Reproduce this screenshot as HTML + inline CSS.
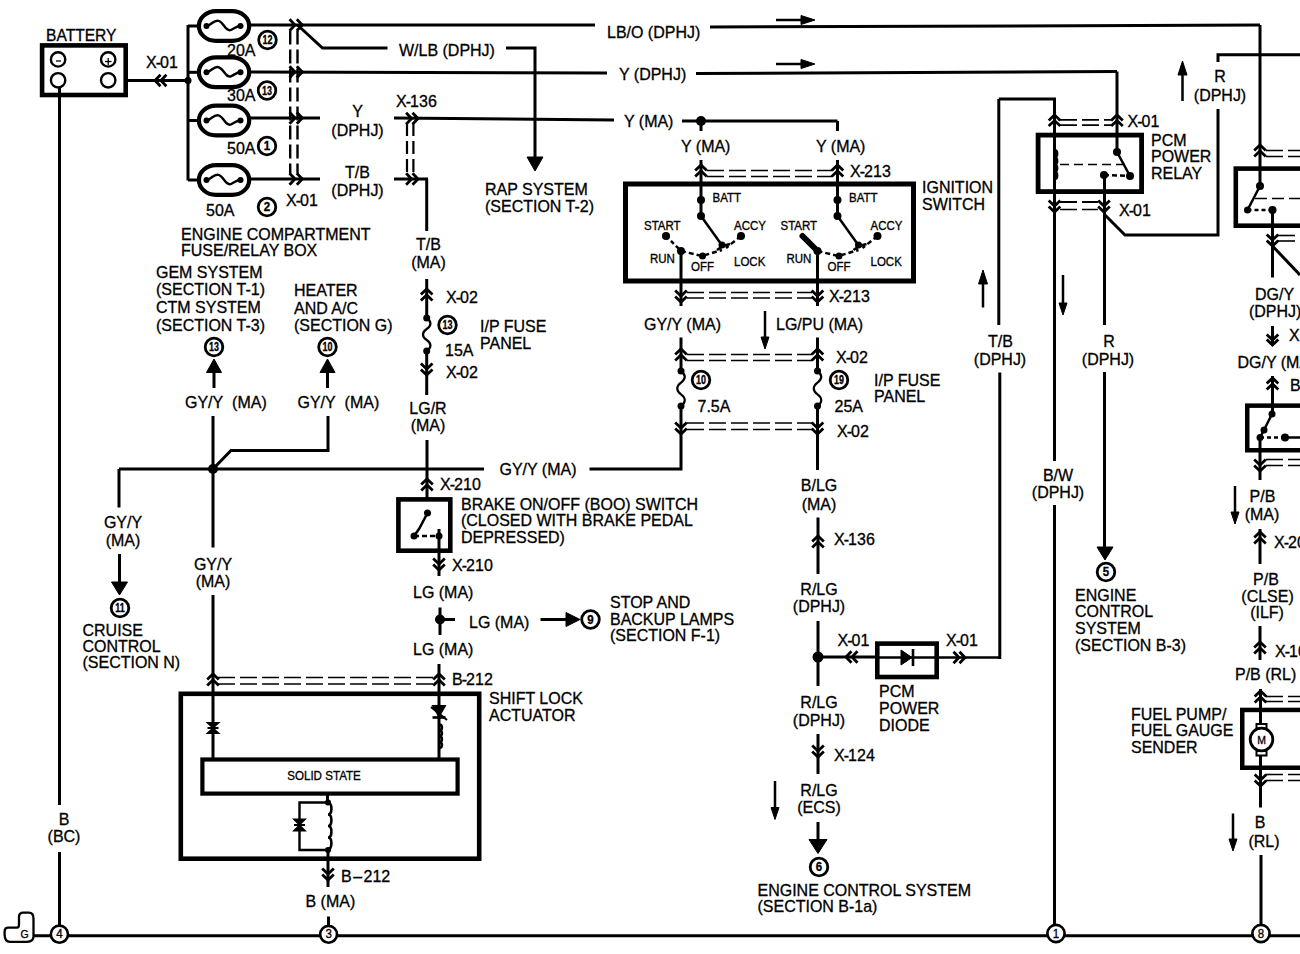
<!DOCTYPE html>
<html><head><meta charset="utf-8"><title>Wiring Diagram</title>
<style>
html,body{margin:0;padding:0;background:#fff;}
body{width:1300px;height:954px;overflow:hidden;}
svg{display:block;}
svg text{font-family:"Liberation Sans", sans-serif;fill:#000;stroke:#000;stroke-width:0.3px;}
</style></head><body>
<svg width="1300" height="954" viewBox="0 0 1300 954" stroke="#000" stroke-linecap="butt" fill="none">
<text transform="translate(46,40.5) scale(1,1.05)" font-size="15.6" text-anchor="start" >BATTERY</text>
<rect x="42.099999999999994" y="45.4" width="83.60000000000001" height="49.599999999999994" stroke-width="4.6" fill="none"/>
<circle cx="58.1" cy="59.4" r="7.2" fill="none" stroke-width="2.4"/>
<circle cx="108.2" cy="59.4" r="7.2" fill="none" stroke-width="2.4"/>
<circle cx="58.1" cy="80.3" r="7.2" fill="none" stroke-width="2.4"/>
<circle cx="108.2" cy="80.3" r="7.2" fill="none" stroke-width="2.4"/>
<line x1="56" y1="61" x2="61" y2="61" stroke-width="1.3"/>
<line x1="105" y1="61.5" x2="111.5" y2="61.5" stroke-width="1.3"/>
<line x1="108.2" y1="58" x2="108.2" y2="65" stroke-width="1.3"/>
<line x1="59.5" y1="88" x2="59.5" y2="805" stroke-width="3"/>
<text transform="translate(64,825) scale(1,1.05)" font-size="16" text-anchor="middle" >B</text>
<text transform="translate(64,842) scale(1,1.05)" font-size="16" text-anchor="middle" >(BC)</text>
<line x1="59.5" y1="852" x2="59.5" y2="925" stroke-width="3"/>
<line x1="128" y1="80.5" x2="188" y2="80.5" stroke-width="3"/>
<polyline points="160.5,74.7 155.0,80.5 160.5,86.3" stroke-width="2.8" fill="none" stroke-linejoin="miter"/>
<polyline points="166.4,74.7 160.9,80.5 166.4,86.3" stroke-width="2.8" fill="none" stroke-linejoin="miter"/>
<text transform="translate(146,67.5) scale(1,1.05)" font-size="16">X<tspan dx="-0.9">-</tspan><tspan dx="-1.0">01</tspan></text>
<circle cx="188" cy="80.5" r="3.5" fill="#000" stroke="none"/>
<line x1="188" y1="25" x2="188" y2="180.5" stroke-width="3"/>
<line x1="188" y1="26" x2="200" y2="26" stroke-width="3"/>
<rect x="198.9" y="11.1" width="50.3" height="29.8" rx="17" ry="14.9" fill="none" stroke-width="4.2"/>
<circle cx="206.5" cy="26" r="3" fill="#000" stroke="none"/>
<circle cx="240.5" cy="26" r="3" fill="#000" stroke="none"/>
<path d="M206.5,26 C212,25 214,19 219,21 C224,23 226,32 231,30 C235,28 237,26 240.5,26" stroke-width="2.4" fill="none" />
<line x1="188" y1="72.3" x2="200" y2="72.3" stroke-width="3"/>
<rect x="198.9" y="57.4" width="50.3" height="29.8" rx="17" ry="14.9" fill="none" stroke-width="4.2"/>
<circle cx="206.5" cy="72.3" r="3" fill="#000" stroke="none"/>
<circle cx="240.5" cy="72.3" r="3" fill="#000" stroke="none"/>
<path d="M206.5,72.3 C212,71.3 214,65.3 219,67.3 C224,69.3 226,78.3 231,76.3 C235,74.3 237,72.3 240.5,72.3" stroke-width="2.4" fill="none" />
<line x1="188" y1="120.5" x2="200" y2="120.5" stroke-width="3"/>
<rect x="198.9" y="105.6" width="50.3" height="29.8" rx="17" ry="14.9" fill="none" stroke-width="4.2"/>
<circle cx="206.5" cy="120.5" r="3" fill="#000" stroke="none"/>
<circle cx="240.5" cy="120.5" r="3" fill="#000" stroke="none"/>
<path d="M206.5,120.5 C212,119.5 214,113.5 219,115.5 C224,117.5 226,126.5 231,124.5 C235,122.5 237,120.5 240.5,120.5" stroke-width="2.4" fill="none" />
<line x1="188" y1="180" x2="200" y2="180" stroke-width="3"/>
<rect x="198.9" y="165.1" width="50.3" height="29.8" rx="17" ry="14.9" fill="none" stroke-width="4.2"/>
<circle cx="206.5" cy="180" r="3" fill="#000" stroke="none"/>
<circle cx="240.5" cy="180" r="3" fill="#000" stroke="none"/>
<path d="M206.5,180 C212,179 214,173 219,175 C224,177 226,186 231,184 C235,182 237,180 240.5,180" stroke-width="2.4" fill="none" />
<text transform="translate(227,55.5) scale(1,1.05)" font-size="16" text-anchor="start" >20A</text>
<circle cx="267.5" cy="40" r="8.8" fill="#fff" stroke-width="2.8"/>
<text transform="translate(267.5,44.1) scale(0.78,1.08)" font-size="11.5" text-anchor="middle" font-weight="bold">12</text>
<text transform="translate(227,100.5) scale(1,1.05)" font-size="16" text-anchor="start" >30A</text>
<circle cx="267" cy="90.5" r="8.8" fill="#fff" stroke-width="2.8"/>
<text transform="translate(267,94.6) scale(0.78,1.08)" font-size="11.5" text-anchor="middle" font-weight="bold">13</text>
<text transform="translate(227,153.5) scale(1,1.05)" font-size="16" text-anchor="start" >50A</text>
<circle cx="267" cy="146" r="8.8" fill="#fff" stroke-width="2.8"/>
<text transform="translate(267,150.14) scale(1,1.05)" font-size="11.5" text-anchor="middle" font-weight="bold">1</text>
<text transform="translate(206,215.5) scale(1,1.05)" font-size="16" text-anchor="start" >50A</text>
<circle cx="267" cy="207" r="8.8" fill="#fff" stroke-width="2.8"/>
<text transform="translate(267,211.14) scale(1,1.05)" font-size="11.5" text-anchor="middle" font-weight="bold">2</text>
<text transform="translate(286,205.5) scale(1,1.05)" font-size="16">X<tspan dx="-0.9">-</tspan><tspan dx="-1.0">01</tspan></text>
<line x1="250" y1="25" x2="595" y2="25" stroke-width="3"/>
<line x1="710" y1="27" x2="1260" y2="25" stroke-width="3"/>
<line x1="1260" y1="25" x2="1260" y2="188" stroke-width="3"/>
<line x1="250" y1="72" x2="607" y2="73" stroke-width="3"/>
<line x1="696" y1="73.5" x2="1117" y2="71.5" stroke-width="3"/>
<line x1="1117" y1="71.5" x2="1117" y2="152" stroke-width="3"/>
<line x1="250" y1="118" x2="320" y2="118" stroke-width="3"/>
<line x1="394" y1="118" x2="614" y2="120" stroke-width="3"/>
<line x1="682" y1="121" x2="837.5" y2="121" stroke-width="3"/>
<text transform="translate(624,126.5) scale(1,1.05)" font-size="16" text-anchor="start" >Y (MA)</text>
<line x1="837.5" y1="121" x2="837.5" y2="131" stroke-width="3"/>
<circle cx="701" cy="121" r="5" fill="#000" stroke="none"/>
<line x1="701" y1="121" x2="701" y2="131" stroke-width="3"/>
<line x1="250" y1="179" x2="320" y2="179" stroke-width="3"/>
<line x1="394" y1="179" x2="428" y2="179" stroke-width="3"/>
<line x1="426.7" y1="179" x2="426.7" y2="231" stroke-width="3"/>
<polyline points="296.8,19.2 302.3,25 296.8,30.8" stroke-width="2.8" fill="none" stroke-linejoin="miter"/>
<polyline points="289.5,19.2 295.0,25 289.5,30.8" stroke-width="2.8" fill="none" stroke-linejoin="miter"/>
<polyline points="296.8,66.2 302.3,72 296.8,77.8" stroke-width="2.8" fill="none" stroke-linejoin="miter"/>
<polyline points="289.5,66.2 295.0,72 289.5,77.8" stroke-width="2.8" fill="none" stroke-linejoin="miter"/>
<polyline points="296.8,112.2 302.3,118 296.8,123.8" stroke-width="2.8" fill="none" stroke-linejoin="miter"/>
<polyline points="289.5,112.2 295.0,118 289.5,123.8" stroke-width="2.8" fill="none" stroke-linejoin="miter"/>
<polyline points="296.8,173.2 302.3,179 296.8,184.8" stroke-width="2.8" fill="none" stroke-linejoin="miter"/>
<polyline points="289.5,173.2 295.0,179 289.5,184.8" stroke-width="2.8" fill="none" stroke-linejoin="miter"/>
<line x1="290.2" y1="30.5" x2="290.2" y2="173.5" stroke-width="2.4" stroke-dasharray="14,5"/>
<line x1="297.5" y1="30.5" x2="297.5" y2="173.5" stroke-width="2.4" stroke-dasharray="14,5"/>
<polyline points="297.5,25 322.5,48 387.5,48" stroke-width="3" fill="none" />
<text transform="translate(399,56) scale(1,1.05)" font-size="16" text-anchor="start" >W/LB (DPHJ)</text>
<polyline points="506,48 535,48 535,158" stroke-width="3" fill="none" />
<polygon points="527,157 543,157 535,171" stroke-width="1" fill="#000"/>
<text transform="translate(485,195.0) scale(1,1.05)" font-size="16" text-anchor="start" >RAP SYSTEM</text>
<text transform="translate(485,211.5) scale(1,1.05)" font-size="16" text-anchor="start" >(SECTION T-2)</text>
<text transform="translate(607,37.5) scale(1,1.05)" font-size="16" text-anchor="start" >LB/O (DPHJ)</text>
<line x1="776" y1="20" x2="803" y2="20" stroke-width="2.5"/>
<polygon points="801,15.5 801,24.5 815,20" stroke-width="1" fill="#000"/>
<text transform="translate(619,80) scale(1,1.05)" font-size="16" text-anchor="start" >Y (DPHJ)</text>
<line x1="776" y1="64" x2="803" y2="64" stroke-width="2.5"/>
<polygon points="801,59.5 801,68.5 815,64" stroke-width="1" fill="#000"/>
<text transform="translate(357.5,116.5) scale(1,1.05)" font-size="16" text-anchor="middle" >Y</text>
<text transform="translate(357.5,135.5) scale(1,1.05)" font-size="16" text-anchor="middle" >(DPHJ)</text>
<text transform="translate(357.5,177.5) scale(1,1.05)" font-size="16" text-anchor="middle" >T/B</text>
<text transform="translate(357.5,195.5) scale(1,1.05)" font-size="16" text-anchor="middle" >(DPHJ)</text>
<text transform="translate(396,106.5) scale(1,1.05)" font-size="16">X<tspan dx="-0.9">-</tspan><tspan dx="-1.0">136</tspan></text>
<polyline points="412.5,112.7 418.0,118.5 412.5,124.3" stroke-width="2.8" fill="none" stroke-linejoin="miter"/>
<polyline points="406.1,112.7 411.6,118.5 406.1,124.3" stroke-width="2.8" fill="none" stroke-linejoin="miter"/>
<polyline points="412.5,173.2 418.0,179 412.5,184.8" stroke-width="2.8" fill="none" stroke-linejoin="miter"/>
<polyline points="406.1,173.2 411.6,179 406.1,184.8" stroke-width="2.8" fill="none" stroke-linejoin="miter"/>
<line x1="407" y1="123" x2="407" y2="174" stroke-width="2.2" stroke-dasharray="13,5"/>
<line x1="413.4" y1="123" x2="413.4" y2="174" stroke-width="2.2" stroke-dasharray="13,5"/>
<text transform="translate(181,239.5) scale(1,1.05)" font-size="16" text-anchor="start" >ENGINE COMPARTMENT</text>
<text transform="translate(181,255.5) scale(1,1.05)" font-size="16" text-anchor="start" >FUSE/RELAY BOX</text>
<text transform="translate(428.5,250) scale(1,1.05)" font-size="16" text-anchor="middle" >T/B</text>
<text transform="translate(428.5,267.5) scale(1,1.05)" font-size="16" text-anchor="middle" >(MA)</text>
<line x1="426.7" y1="279" x2="426.7" y2="318" stroke-width="3"/>
<polyline points="420.9,294.5 426.7,289 432.5,294.5" stroke-width="2.8" fill="none" stroke-linejoin="miter"/>
<polyline points="420.9,300.5 426.7,295 432.5,300.5" stroke-width="2.8" fill="none" stroke-linejoin="miter"/>
<text transform="translate(446,303) scale(1,1.05)" font-size="16">X<tspan dx="-0.9">-</tspan><tspan dx="-1.0">02</tspan></text>
<circle cx="426.7" cy="318" r="3.5" fill="#000" stroke="none"/>
<path d="M426.7,318 C431.7,321.3 431.7,325.7 426.7,329.0 C421.7,332.3 421.7,336.7 426.7,340.0 C431.7,343.3 431.7,347.7 426.7,351.0" stroke-width="2.2" fill="none" />
<circle cx="426.7" cy="351" r="3.5" fill="#000" stroke="none"/>
<circle cx="447.5" cy="325" r="8.8" fill="#fff" stroke-width="2.8"/>
<text transform="translate(447.5,329.1) scale(0.78,1.08)" font-size="11.5" text-anchor="middle" font-weight="bold">13</text>
<text transform="translate(480,332.0) scale(1,1.05)" font-size="16" text-anchor="start" >I/P FUSE</text>
<text transform="translate(480,348.5) scale(1,1.05)" font-size="16" text-anchor="start" >PANEL</text>
<text transform="translate(445,355.5) scale(1,1.05)" font-size="16" text-anchor="start" >15A</text>
<line x1="426.7" y1="351" x2="426.7" y2="395" stroke-width="3"/>
<polyline points="420.9,369.5 426.7,375 432.5,369.5" stroke-width="2.8" fill="none" stroke-linejoin="miter"/>
<polyline points="420.9,363.5 426.7,369 432.5,363.5" stroke-width="2.8" fill="none" stroke-linejoin="miter"/>
<text transform="translate(446,378) scale(1,1.05)" font-size="16">X<tspan dx="-0.9">-</tspan><tspan dx="-1.0">02</tspan></text>
<text transform="translate(428,414) scale(1,1.05)" font-size="16" text-anchor="middle" >LG/R</text>
<text transform="translate(428,430.5) scale(1,1.05)" font-size="16" text-anchor="middle" >(MA)</text>
<line x1="427" y1="440" x2="427" y2="500" stroke-width="3"/>
<polyline points="421.2,484.5 427,479 432.8,484.5" stroke-width="2.8" fill="none" stroke-linejoin="miter"/>
<polyline points="421.2,490.5 427,485 432.8,490.5" stroke-width="2.8" fill="none" stroke-linejoin="miter"/>
<text transform="translate(440,489.5) scale(1,1.05)" font-size="16">X<tspan dx="-0.9">-</tspan><tspan dx="-1.0">210</tspan></text>
<text transform="translate(156,277.5) scale(1,1.05)" font-size="16" text-anchor="start" >GEM SYSTEM</text>
<text transform="translate(156,295.3) scale(1,1.05)" font-size="16" text-anchor="start" >(SECTION T-1)</text>
<text transform="translate(156,313.1) scale(1,1.05)" font-size="16" text-anchor="start" >CTM SYSTEM</text>
<text transform="translate(156,330.9) scale(1,1.05)" font-size="16" text-anchor="start" >(SECTION T-3)</text>
<text transform="translate(294,296.0) scale(1,1.05)" font-size="16" text-anchor="start" >HEATER</text>
<text transform="translate(294,313.5) scale(1,1.05)" font-size="16" text-anchor="start" >AND A/C</text>
<text transform="translate(294,331.0) scale(1,1.05)" font-size="16" text-anchor="start" >(SECTION G)</text>
<circle cx="214" cy="347" r="8.8" fill="#fff" stroke-width="2.8"/>
<text transform="translate(214,351.1) scale(0.78,1.08)" font-size="11.5" text-anchor="middle" font-weight="bold">13</text>
<circle cx="327.5" cy="347" r="8.8" fill="#fff" stroke-width="2.8"/>
<text transform="translate(327.5,351.1) scale(0.78,1.08)" font-size="11.5" text-anchor="middle" font-weight="bold">10</text>
<line x1="214" y1="388" x2="214" y2="371.5" stroke-width="3"/>
<polygon points="206.5,372.5 221.5,372.5 214,359" stroke-width="1" fill="#000"/>
<line x1="327.5" y1="388" x2="327.5" y2="371.5" stroke-width="3"/>
<polygon points="320.0,372.5 335.0,372.5 327.5,359" stroke-width="1" fill="#000"/>
<text transform="translate(185,408) scale(1,1.05)" font-size="16" text-anchor="start" >GY/Y  (MA)</text>
<text transform="translate(297.5,408) scale(1,1.05)" font-size="16" text-anchor="start" >GY/Y  (MA)</text>
<line x1="213" y1="416" x2="213" y2="547.5" stroke-width="3"/>
<polyline points="328,416 328,450.5 231,450.5 213,469" stroke-width="3" fill="none" />
<circle cx="213" cy="469" r="5" fill="#000" stroke="none"/>
<line x1="119" y1="469" x2="484" y2="469" stroke-width="3"/>
<text transform="translate(499.5,474.5) scale(1,1.05)" font-size="16" text-anchor="start" >GY/Y (MA)</text>
<polyline points="589.5,469 681,469 681,406" stroke-width="3" fill="none" />
<line x1="119" y1="469" x2="119" y2="507.5" stroke-width="3"/>
<text transform="translate(123,528) scale(1,1.05)" font-size="16" text-anchor="middle" >GY/Y</text>
<text transform="translate(123,545.5) scale(1,1.05)" font-size="16" text-anchor="middle" >(MA)</text>
<line x1="119.5" y1="554" x2="119.5" y2="583" stroke-width="3"/>
<polygon points="111.5,582 127.5,582 119.5,595" stroke-width="1" fill="#000"/>
<circle cx="120" cy="608" r="8.8" fill="#fff" stroke-width="2.8"/>
<text transform="translate(120,612.1) scale(0.78,1.08)" font-size="11.5" text-anchor="middle" font-weight="bold">11</text>
<text transform="translate(82.5,635.5) scale(1,1.05)" font-size="16" text-anchor="start" >CRUISE</text>
<text transform="translate(82.5,651.8) scale(1,1.05)" font-size="16" text-anchor="start" >CONTROL</text>
<text transform="translate(82.5,668.1) scale(1,1.05)" font-size="16" text-anchor="start" >(SECTION N)</text>
<text transform="translate(213,569.5) scale(1,1.05)" font-size="16" text-anchor="middle" >GY/Y</text>
<text transform="translate(213,586.5) scale(1,1.05)" font-size="16" text-anchor="middle" >(MA)</text>
<line x1="213" y1="595" x2="213" y2="760" stroke-width="3"/>
<rect x="398.40000000000003" y="499.40000000000003" width="51.9" height="51.299999999999976" stroke-width="4.6" fill="none"/>
<circle cx="427.5" cy="513" r="3.5" fill="#000" stroke="none"/>
<polyline points="427.5,513 419,529 414,536" stroke-width="2.5" fill="none" />
<circle cx="414" cy="536" r="3.5" fill="#000" stroke="none"/>
<path d="M414,536 L439,536" stroke-width="2.5" fill="none" stroke-dasharray="5,3"/>
<circle cx="439" cy="536" r="3.5" fill="#000" stroke="none"/>
<line x1="439" y1="529" x2="439" y2="576" stroke-width="3"/>
<polyline points="433.2,564.5 439,570 444.8,564.5" stroke-width="2.8" fill="none" stroke-linejoin="miter"/>
<polyline points="433.2,558.5 439,564 444.8,558.5" stroke-width="2.8" fill="none" stroke-linejoin="miter"/>
<text transform="translate(452,570.5) scale(1,1.05)" font-size="16">X<tspan dx="-0.9">-</tspan><tspan dx="-1.0">210</tspan></text>
<text transform="translate(461,509.5) scale(1,1.05)" font-size="16" text-anchor="start" >BRAKE ON/OFF (BOO) SWITCH</text>
<text transform="translate(461,526.2) scale(1,1.05)" font-size="16" text-anchor="start" >(CLOSED WITH BRAKE PEDAL</text>
<text transform="translate(461,542.9) scale(1,1.05)" font-size="16" text-anchor="start" >DEPRESSED)</text>
<text transform="translate(413,598) scale(1,1.05)" font-size="16" text-anchor="start" >LG (MA)</text>
<line x1="440" y1="607.5" x2="440" y2="635" stroke-width="3"/>
<circle cx="440" cy="619.5" r="5" fill="#000" stroke="none"/>
<line x1="440" y1="619.5" x2="455" y2="619.5" stroke-width="3"/>
<text transform="translate(469,628) scale(1,1.05)" font-size="16" text-anchor="start" >LG (MA)</text>
<line x1="540.5" y1="619.5" x2="567" y2="619.5" stroke-width="3"/>
<polygon points="566,612.5 566,626.5 580,619.5" stroke-width="1" fill="#000"/>
<circle cx="590.5" cy="619.5" r="8.8" fill="#fff" stroke-width="2.8"/>
<text transform="translate(590.5,623.64) scale(1,1.05)" font-size="11.5" text-anchor="middle" font-weight="bold">9</text>
<text transform="translate(610,608.0) scale(1,1.05)" font-size="16" text-anchor="start" >STOP AND</text>
<text transform="translate(610,624.7) scale(1,1.05)" font-size="16" text-anchor="start" >BACKUP LAMPS</text>
<text transform="translate(610,641.4) scale(1,1.05)" font-size="16" text-anchor="start" >(SECTION F-1)</text>
<text transform="translate(413,654.5) scale(1,1.05)" font-size="16" text-anchor="start" >LG (MA)</text>
<line x1="439" y1="664" x2="439" y2="760" stroke-width="3"/>
<polyline points="207.2,679.5 213,674 218.8,679.5" stroke-width="2.8" fill="none" stroke-linejoin="miter"/>
<polyline points="207.2,685.5 213,680 218.8,685.5" stroke-width="2.8" fill="none" stroke-linejoin="miter"/>
<polyline points="433.2,679.5 439,674 444.8,679.5" stroke-width="2.8" fill="none" stroke-linejoin="miter"/>
<polyline points="433.2,685.5 439,680 444.8,685.5" stroke-width="2.8" fill="none" stroke-linejoin="miter"/>
<line x1="218" y1="677.5" x2="434" y2="677.5" stroke-width="1.6" stroke-dasharray="17,5"/>
<line x1="218" y1="684" x2="434" y2="684" stroke-width="1.6" stroke-dasharray="17,5"/>
<text transform="translate(452,685) scale(1,1.05)" font-size="16">B<tspan dx="-0.9">-</tspan><tspan dx="-1.0">212</tspan></text>
<text transform="translate(489,704) scale(1,1.05)" font-size="16" text-anchor="start" >SHIFT LOCK</text>
<text transform="translate(489,721) scale(1,1.05)" font-size="16" text-anchor="start" >ACTUATOR</text>
<rect x="180.8" y="693.8" width="298.4" height="164.9" stroke-width="4.6" fill="none"/>
<polygon points="207,722.5 219,722.5 213,728 219,733.5 207,733.5 213,728" stroke-width="1.2" fill="#000"/>
<line x1="207.5" y1="728" x2="218.5" y2="728" stroke-width="2"/>
<polygon points="432.5,705.5 445.5,705.5 439,717" stroke-width="1.2" fill="#000"/>
<line x1="432.5" y1="717.5" x2="445.5" y2="717.5" stroke-width="2.6"/>
<line x1="431" y1="707" x2="447" y2="720" stroke-width="2.2"/>
<path d="M439,724.5 C442.9,724.5 442.9,730.375 439,730.375 C442.9,730.375 442.9,736.25 439,736.25 C442.9,736.25 442.9,742.125 439,742.125 C442.9,742.125 442.9,748.0 439,748.0" stroke-width="2.6" fill="none" />
<rect x="202.4" y="759.5" width="255.2" height="34.100000000000065" stroke-width="4.2" fill="none"/>
<text transform="translate(324,780) scale(1,1.05)" font-size="11.6" text-anchor="middle" >SOLID STATE</text>
<line x1="327.5" y1="794" x2="327.5" y2="802" stroke-width="3"/>
<path d="M328,803 C332.55,803.0 332.55,814.5 328,814.5 C332.55,814.5 332.55,826.0 328,826.0 C332.55,826.0 332.55,837.5 328,837.5 C332.55,837.5 332.55,849.0 328,849.0" stroke-width="2.6" fill="none" />
<polyline points="328,802.5 299.5,802.5 299.5,850 328,850" stroke-width="2.4" fill="none" />
<polygon points="293.5,819 305.5,819 299.5,825 305.5,831 293.5,831 299.5,825" stroke-width="1.2" fill="#000"/>
<line x1="294" y1="825" x2="305" y2="825" stroke-width="2"/>
<circle cx="328" cy="802.5" r="3" fill="#000" stroke="none"/>
<circle cx="328" cy="850" r="3" fill="#000" stroke="none"/>
<line x1="328" y1="850" x2="328" y2="887" stroke-width="3"/>
<polyline points="322.2,874.5 328,880 333.8,874.5" stroke-width="2.8" fill="none" stroke-linejoin="miter"/>
<polyline points="322.2,868.5 328,874 333.8,868.5" stroke-width="2.8" fill="none" stroke-linejoin="miter"/>
<text transform="translate(341,882) scale(1,1.05)" font-size="16">B<tspan dx="1.5">–</tspan><tspan dx="1.5">212</tspan></text>
<text transform="translate(305.5,907) scale(1,1.05)" font-size="16" text-anchor="start" >B (MA)</text>
<line x1="328.5" y1="916.5" x2="328.5" y2="925" stroke-width="3"/>
<text transform="translate(681,151.5) scale(1,1.05)" font-size="16" text-anchor="start" >Y (MA)</text>
<text transform="translate(816,151.5) scale(1,1.05)" font-size="16" text-anchor="start" >Y (MA)</text>
<line x1="701" y1="160" x2="701" y2="216" stroke-width="3"/>
<line x1="837.5" y1="160" x2="837.5" y2="216" stroke-width="3"/>
<polyline points="695.2,170.5 701,165 706.8,170.5" stroke-width="2.8" fill="none" stroke-linejoin="miter"/>
<polyline points="695.2,176.5 701,171 706.8,176.5" stroke-width="2.8" fill="none" stroke-linejoin="miter"/>
<polyline points="831.7,170.5 837.5,165 843.3,170.5" stroke-width="2.8" fill="none" stroke-linejoin="miter"/>
<polyline points="831.7,176.5 837.5,171 843.3,176.5" stroke-width="2.8" fill="none" stroke-linejoin="miter"/>
<line x1="707" y1="170.5" x2="832" y2="170.5" stroke-width="1.6" stroke-dasharray="17,5"/>
<line x1="707" y1="176.5" x2="832" y2="176.5" stroke-width="1.6" stroke-dasharray="17,5"/>
<text transform="translate(850,176.5) scale(1,1.05)" font-size="16">X<tspan dx="-0.9">-</tspan><tspan dx="-1.0">213</tspan></text>
<rect x="625.5" y="184.0" width="288" height="97.0" stroke-width="5" fill="none"/>
<text transform="translate(922,193.2) scale(1,1.05)" font-size="16" text-anchor="start" >IGNITION</text>
<text transform="translate(922,210.29999999999998) scale(1,1.05)" font-size="16" text-anchor="start" >SWITCH</text>
<circle cx="701" cy="200" r="4" fill="#000" stroke="none"/>
<circle cx="701" cy="216" r="4" fill="#000" stroke="none"/>
<polyline points="701,216 722.5,246" stroke-width="2.5" fill="none" />
<polyline points="717,250 723,246 730,244" stroke-width="2.5" fill="none" />
<circle cx="722" cy="245" r="3.5" fill="#000" stroke="none"/>
<text transform="translate(712.5,201.5) scale(1,1.05)" font-size="11.5" text-anchor="start" >BATT</text>
<text transform="translate(644,229.5) scale(1,1.05)" font-size="11.5" text-anchor="start" >START</text>
<text transform="translate(734,229.5) scale(1,1.05)" font-size="11.5" text-anchor="start" >ACCY</text>
<text transform="translate(650,262.5) scale(1,1.05)" font-size="11.5" text-anchor="start" >RUN</text>
<text transform="translate(691,271) scale(1,1.05)" font-size="11.5" text-anchor="start" >OFF</text>
<text transform="translate(734,266) scale(1,1.05)" font-size="11.5" text-anchor="start" >LOCK</text>
<circle cx="666" cy="236" r="4" fill="#000" stroke="none"/>
<path d="M666,236 L681,251" stroke-width="2.5" fill="none" stroke-dasharray="4,3"/>
<circle cx="681" cy="251" r="4" fill="#000" stroke="none"/>
<path d="M681,251 L702,256 L722,250" stroke-width="2.5" fill="none" stroke-dasharray="5,3"/>
<circle cx="702.5" cy="256" r="3.5" fill="#000" stroke="none"/>
<circle cx="741" cy="236" r="4" fill="#000" stroke="none"/>
<path d="M741,236 L726,248" stroke-width="2.5" fill="none" stroke-dasharray="5,3"/>
<line x1="681" y1="251" x2="681" y2="306" stroke-width="3"/>
<circle cx="837.5" cy="200" r="4" fill="#000" stroke="none"/>
<circle cx="837.5" cy="216" r="4" fill="#000" stroke="none"/>
<polyline points="837.5,216 859.0,246" stroke-width="2.5" fill="none" />
<polyline points="853.5,250 859.5,246 866.5,244" stroke-width="2.5" fill="none" />
<circle cx="858.5" cy="245" r="3.5" fill="#000" stroke="none"/>
<text transform="translate(849.0,201.5) scale(1,1.05)" font-size="11.5" text-anchor="start" >BATT</text>
<text transform="translate(780.5,229.5) scale(1,1.05)" font-size="11.5" text-anchor="start" >START</text>
<text transform="translate(870.5,229.5) scale(1,1.05)" font-size="11.5" text-anchor="start" >ACCY</text>
<text transform="translate(786.5,262.5) scale(1,1.05)" font-size="11.5" text-anchor="start" >RUN</text>
<text transform="translate(827.5,271) scale(1,1.05)" font-size="11.5" text-anchor="start" >OFF</text>
<text transform="translate(870.5,266) scale(1,1.05)" font-size="11.5" text-anchor="start" >LOCK</text>
<polyline points="802.5,236 817.5,251" stroke-width="6" fill="none" stroke-linecap="round"/>
<circle cx="817.5" cy="251" r="4" fill="#000" stroke="none"/>
<path d="M817.5,251 L838.5,256 L858.5,250" stroke-width="2.5" fill="none" stroke-dasharray="5,3"/>
<circle cx="839.0" cy="256" r="3.5" fill="#000" stroke="none"/>
<circle cx="877.5" cy="236" r="4" fill="#000" stroke="none"/>
<path d="M877.5,236 L862.5,248" stroke-width="2.5" fill="none" stroke-dasharray="5,3"/>
<line x1="817.5" y1="251" x2="817.5" y2="306" stroke-width="3"/>
<polyline points="675.2,296.5 681,302 686.8,296.5" stroke-width="2.8" fill="none" stroke-linejoin="miter"/>
<polyline points="675.2,290.5 681,296 686.8,290.5" stroke-width="2.8" fill="none" stroke-linejoin="miter"/>
<polyline points="811.7,296.5 817.5,302 823.3,296.5" stroke-width="2.8" fill="none" stroke-linejoin="miter"/>
<polyline points="811.7,290.5 817.5,296 823.3,290.5" stroke-width="2.8" fill="none" stroke-linejoin="miter"/>
<line x1="687" y1="292.5" x2="812" y2="292.5" stroke-width="1.6" stroke-dasharray="17,5"/>
<line x1="687" y1="298" x2="812" y2="298" stroke-width="1.6" stroke-dasharray="17,5"/>
<text transform="translate(829,301.5) scale(1,1.05)" font-size="16">X<tspan dx="-0.9">-</tspan><tspan dx="-1.0">213</tspan></text>
<text transform="translate(644,329.5) scale(1,1.05)" font-size="16" text-anchor="start" >GY/Y (MA)</text>
<text transform="translate(776,329.5) scale(1,1.05)" font-size="16" text-anchor="start" >LG/PU (MA)</text>
<line x1="765" y1="311" x2="765" y2="339" stroke-width="2.5"/>
<polygon points="761,337 769,337 765,349" stroke-width="1" fill="#000"/>
<line x1="681" y1="337.5" x2="681" y2="371" stroke-width="3"/>
<line x1="817.5" y1="337.5" x2="817.5" y2="371" stroke-width="3"/>
<polyline points="675.2,354.5 681,349 686.8,354.5" stroke-width="2.8" fill="none" stroke-linejoin="miter"/>
<polyline points="675.2,360.5 681,355 686.8,360.5" stroke-width="2.8" fill="none" stroke-linejoin="miter"/>
<polyline points="811.7,354.5 817.5,349 823.3,354.5" stroke-width="2.8" fill="none" stroke-linejoin="miter"/>
<polyline points="811.7,360.5 817.5,355 823.3,360.5" stroke-width="2.8" fill="none" stroke-linejoin="miter"/>
<line x1="687" y1="354.5" x2="812" y2="354.5" stroke-width="1.6" stroke-dasharray="17,5"/>
<line x1="687" y1="360.5" x2="812" y2="360.5" stroke-width="1.6" stroke-dasharray="17,5"/>
<text transform="translate(836,363) scale(1,1.05)" font-size="16">X<tspan dx="-0.9">-</tspan><tspan dx="-1.0">02</tspan></text>
<circle cx="681" cy="371" r="3.5" fill="#000" stroke="none"/>
<path d="M681,371 C686,374.5 686,379.1666666666667 681,382.6666666666667 C676,386.1666666666667 676,390.83333333333337 681,394.33333333333337 C686,397.8333333333333 686,402.5 681,406.0" stroke-width="2.2" fill="none" />
<circle cx="681" cy="406" r="3.5" fill="#000" stroke="none"/>
<circle cx="817.5" cy="371" r="3.5" fill="#000" stroke="none"/>
<path d="M817.5,371 C822.5,374.5 822.5,379.1666666666667 817.5,382.6666666666667 C812.5,386.1666666666667 812.5,390.83333333333337 817.5,394.33333333333337 C822.5,397.8333333333333 822.5,402.5 817.5,406.0" stroke-width="2.2" fill="none" />
<circle cx="817.5" cy="406" r="3.5" fill="#000" stroke="none"/>
<circle cx="701" cy="380" r="8.8" fill="#fff" stroke-width="2.8"/>
<text transform="translate(701,384.1) scale(0.78,1.08)" font-size="11.5" text-anchor="middle" font-weight="bold">10</text>
<circle cx="839" cy="380" r="8.8" fill="#fff" stroke-width="2.8"/>
<text transform="translate(839,384.1) scale(0.78,1.08)" font-size="11.5" text-anchor="middle" font-weight="bold">19</text>
<text transform="translate(874,385.5) scale(1,1.05)" font-size="16" text-anchor="start" >I/P FUSE</text>
<text transform="translate(874,401.5) scale(1,1.05)" font-size="16" text-anchor="start" >PANEL</text>
<text transform="translate(697.5,411.5) scale(1,1.05)" font-size="16" text-anchor="start" >7.5A</text>
<text transform="translate(834.5,411.5) scale(1,1.05)" font-size="16" text-anchor="start" >25A</text>
<polyline points="675.2,428.5 681,434 686.8,428.5" stroke-width="2.8" fill="none" stroke-linejoin="miter"/>
<polyline points="675.2,422.5 681,428 686.8,422.5" stroke-width="2.8" fill="none" stroke-linejoin="miter"/>
<polyline points="811.7,428.5 817.5,434 823.3,428.5" stroke-width="2.8" fill="none" stroke-linejoin="miter"/>
<polyline points="811.7,422.5 817.5,428 823.3,422.5" stroke-width="2.8" fill="none" stroke-linejoin="miter"/>
<line x1="687" y1="423" x2="812" y2="423" stroke-width="1.6" stroke-dasharray="17,5"/>
<line x1="687" y1="429.5" x2="812" y2="429.5" stroke-width="1.6" stroke-dasharray="17,5"/>
<text transform="translate(837,436.5) scale(1,1.05)" font-size="16">X<tspan dx="-0.9">-</tspan><tspan dx="-1.0">02</tspan></text>
<line x1="817.5" y1="406" x2="817.5" y2="470" stroke-width="3"/>
<text transform="translate(819,490.5) scale(1,1.05)" font-size="16" text-anchor="middle" >B/LG</text>
<text transform="translate(819,509.5) scale(1,1.05)" font-size="16" text-anchor="middle" >(MA)</text>
<line x1="818" y1="517.5" x2="818" y2="574" stroke-width="3"/>
<polyline points="812.2,541.5 818,536 823.8,541.5" stroke-width="2.8" fill="none" stroke-linejoin="miter"/>
<polyline points="812.2,547.5 818,542 823.8,547.5" stroke-width="2.8" fill="none" stroke-linejoin="miter"/>
<text transform="translate(834,544.5) scale(1,1.05)" font-size="16">X<tspan dx="-0.9">-</tspan><tspan dx="-1.0">136</tspan></text>
<text transform="translate(819,594.5) scale(1,1.05)" font-size="16" text-anchor="middle" >R/LG</text>
<text transform="translate(819,611.5) scale(1,1.05)" font-size="16" text-anchor="middle" >(DPHJ)</text>
<line x1="818" y1="621" x2="818" y2="686" stroke-width="3"/>
<circle cx="818" cy="657" r="5.5" fill="#000" stroke="none"/>
<line x1="818" y1="657" x2="876" y2="657" stroke-width="3"/>
<polyline points="851.5,651.2 846,657 851.5,662.8" stroke-width="2.8" fill="none" stroke-linejoin="miter"/>
<polyline points="857.5,651.2 852,657 857.5,662.8" stroke-width="2.8" fill="none" stroke-linejoin="miter"/>
<text transform="translate(837.5,645.5) scale(1,1.05)" font-size="16">X<tspan dx="-0.9">-</tspan><tspan dx="-1.0">01</tspan></text>
<rect x="877.3" y="643.5999999999999" width="59.4" height="33.4" stroke-width="4.6" fill="none"/>
<line x1="879" y1="657.5" x2="1000" y2="657.5" stroke-width="2.6"/>
<polygon points="901,650 901,665 912,657.5" stroke-width="1" fill="#000"/>
<line x1="913" y1="649" x2="913" y2="666" stroke-width="2.6"/>
<text transform="translate(946,645.5) scale(1,1.05)" font-size="16">X<tspan dx="-0.9">-</tspan><tspan dx="-1.0">01</tspan></text>
<polyline points="959.5,651.7 965,657.5 959.5,663.3" stroke-width="2.8" fill="none" stroke-linejoin="miter"/>
<polyline points="953.5,651.7 959,657.5 953.5,663.3" stroke-width="2.8" fill="none" stroke-linejoin="miter"/>
<text transform="translate(879,696.5) scale(1,1.05)" font-size="16" text-anchor="start" >PCM</text>
<text transform="translate(879,713.5) scale(1,1.05)" font-size="16" text-anchor="start" >POWER</text>
<text transform="translate(879,730.5) scale(1,1.05)" font-size="16" text-anchor="start" >DIODE</text>
<line x1="999.8" y1="659" x2="999.8" y2="372.5" stroke-width="3"/>
<text transform="translate(819,708) scale(1,1.05)" font-size="16" text-anchor="middle" >R/LG</text>
<text transform="translate(819,725.5) scale(1,1.05)" font-size="16" text-anchor="middle" >(DPHJ)</text>
<line x1="818" y1="734" x2="818" y2="774" stroke-width="3"/>
<polyline points="812.2,751.5 818,757 823.8,751.5" stroke-width="2.8" fill="none" stroke-linejoin="miter"/>
<polyline points="812.2,745.5 818,751 823.8,745.5" stroke-width="2.8" fill="none" stroke-linejoin="miter"/>
<text transform="translate(834,760.5) scale(1,1.05)" font-size="16">X<tspan dx="-0.9">-</tspan><tspan dx="-1.0">124</tspan></text>
<text transform="translate(819,795.5) scale(1,1.05)" font-size="16" text-anchor="middle" >R/LG</text>
<text transform="translate(819,813) scale(1,1.05)" font-size="16" text-anchor="middle" >(ECS)</text>
<line x1="775" y1="781" x2="775" y2="809.5" stroke-width="2.5"/>
<polygon points="771,807.5 779,807.5 775,819.5" stroke-width="1" fill="#000"/>
<line x1="818" y1="822" x2="818" y2="840.5" stroke-width="3"/>
<polygon points="809,839.5 827,839.5 818,853.5" stroke-width="1" fill="#000"/>
<circle cx="819" cy="867" r="8.8" fill="#fff" stroke-width="2.8"/>
<text transform="translate(819,871.14) scale(1,1.05)" font-size="11.5" text-anchor="middle" font-weight="bold">6</text>
<text transform="translate(757.5,895.5) scale(1,1.05)" font-size="16" text-anchor="start" >ENGINE CONTROL SYSTEM</text>
<text transform="translate(757.5,912.0) scale(1,1.05)" font-size="16" text-anchor="start" >(SECTION B-1a)</text>
<polyline points="998.8,99 1054.5,99 1054.5,925" stroke-width="3" fill="none" />
<line x1="998.8" y1="99" x2="998.8" y2="325" stroke-width="3"/>
<text transform="translate(1000.5,346.5) scale(1,1.05)" font-size="16" text-anchor="middle" >T/B</text>
<text transform="translate(1000,364.5) scale(1,1.05)" font-size="16" text-anchor="middle" >(DPHJ)</text>
<line x1="983" y1="307.5" x2="983" y2="282" stroke-width="2.5"/>
<polygon points="978.5,284 987.5,284 983,270" stroke-width="1" fill="#000"/>
<line x1="1063" y1="275" x2="1063" y2="305" stroke-width="2.5"/>
<polygon points="1059,303 1067,303 1063,315" stroke-width="1" fill="#000"/>
<rect x="1038.1000000000001" y="135.1" width="103.49999999999996" height="56.500000000000014" stroke-width="4.8" fill="none"/>
<polyline points="1048.7,120.5 1054.5,115.0 1060.3,120.5" stroke-width="2.8" fill="none" stroke-linejoin="miter"/>
<polyline points="1048.7,126.1 1054.5,120.6 1060.3,126.1" stroke-width="2.8" fill="none" stroke-linejoin="miter"/>
<polyline points="1111.2,120.5 1117,115.0 1122.8,120.5" stroke-width="2.8" fill="none" stroke-linejoin="miter"/>
<polyline points="1111.2,126.1 1117,120.6 1122.8,126.1" stroke-width="2.8" fill="none" stroke-linejoin="miter"/>
<line x1="1060" y1="119.8" x2="1112" y2="119.8" stroke-width="1.8" stroke-dasharray="17,5"/>
<line x1="1060" y1="125.2" x2="1112" y2="125.2" stroke-width="1.8" stroke-dasharray="17,5"/>
<text transform="translate(1127.5,126.5) scale(1,1.05)" font-size="16">X<tspan dx="-0.9">-</tspan><tspan dx="-1.0">01</tspan></text>
<text transform="translate(1151,145.5) scale(1,1.05)" font-size="16" text-anchor="start" >PCM</text>
<text transform="translate(1151,162.3) scale(1,1.05)" font-size="16" text-anchor="start" >POWER</text>
<text transform="translate(1151,179.1) scale(1,1.05)" font-size="16" text-anchor="start" >RELAY</text>
<path d="M1054,150 C1058.16,150.0 1058.16,157.25 1054,157.25 C1058.16,157.25 1058.16,164.5 1054,164.5 C1058.16,164.5 1058.16,171.75 1054,171.75 C1058.16,171.75 1058.16,179.0 1054,179.0" stroke-width="2.6" fill="none" />
<line x1="1060" y1="164.5" x2="1125" y2="164.5" stroke-width="1.6" stroke-dasharray="9,5"/>
<circle cx="1117" cy="152" r="4" fill="#000" stroke="none"/>
<polyline points="1117,152 1130,176" stroke-width="2.5" fill="none" />
<circle cx="1130" cy="176" r="4" fill="#000" stroke="none"/>
<circle cx="1104" cy="175" r="4" fill="#000" stroke="none"/>
<path d="M1104,175 L1130,176" stroke-width="2.5" fill="none" stroke-dasharray="5,3"/>
<line x1="1104.5" y1="175" x2="1104.5" y2="325" stroke-width="3"/>
<polyline points="1048.7,206.5 1054.5,212 1060.3,206.5" stroke-width="2.8" fill="none" stroke-linejoin="miter"/>
<polyline points="1048.7,200.5 1054.5,206 1060.3,200.5" stroke-width="2.8" fill="none" stroke-linejoin="miter"/>
<polyline points="1098.2,206.5 1104,212 1109.8,206.5" stroke-width="2.8" fill="none" stroke-linejoin="miter"/>
<polyline points="1098.2,200.5 1104,206 1109.8,200.5" stroke-width="2.8" fill="none" stroke-linejoin="miter"/>
<line x1="1060" y1="202" x2="1098" y2="202" stroke-width="1.8" stroke-dasharray="17,5"/>
<line x1="1060" y1="209.5" x2="1098" y2="209.5" stroke-width="1.6" stroke-dasharray="17,5"/>
<text transform="translate(1119,215.5) scale(1,1.05)" font-size="16">X<tspan dx="-0.9">-</tspan><tspan dx="-1.0">01</tspan></text>
<polyline points="1104,214 1125,235 1218,235 1218,109" stroke-width="3" fill="none" />
<text transform="translate(1220,82) scale(1,1.05)" font-size="16" text-anchor="middle" >R</text>
<text transform="translate(1220,100.5) scale(1,1.05)" font-size="16" text-anchor="middle" >(DPHJ)</text>
<polyline points="1218,62 1218,54.7 1300,54.7" stroke-width="3" fill="none" />
<line x1="1182.5" y1="101" x2="1182.5" y2="73" stroke-width="2.5"/>
<polygon points="1178.0,75 1187.0,75 1182.5,61" stroke-width="1" fill="#000"/>
<text transform="translate(1109,346.5) scale(1,1.05)" font-size="16" text-anchor="middle" >R</text>
<text transform="translate(1108,364.5) scale(1,1.05)" font-size="16" text-anchor="middle" >(DPHJ)</text>
<line x1="1104.5" y1="372" x2="1104.5" y2="548" stroke-width="3"/>
<polygon points="1097,547 1113,547 1105,560" stroke-width="1" fill="#000"/>
<circle cx="1106" cy="572" r="8.8" fill="#fff" stroke-width="2.8"/>
<text transform="translate(1106,576.14) scale(1,1.05)" font-size="11.5" text-anchor="middle" font-weight="bold">5</text>
<text transform="translate(1075,600.5) scale(1,1.05)" font-size="16" text-anchor="start" >ENGINE</text>
<text transform="translate(1075,617.2) scale(1,1.05)" font-size="16" text-anchor="start" >CONTROL</text>
<text transform="translate(1075,633.9) scale(1,1.05)" font-size="16" text-anchor="start" >SYSTEM</text>
<text transform="translate(1075,650.6) scale(1,1.05)" font-size="16" text-anchor="start" >(SECTION B-3)</text>
<rect x="1042" y="461" width="25" height="44" fill="#fff" stroke="none"/>
<text transform="translate(1058,480.5) scale(1,1.05)" font-size="16" text-anchor="middle" >B/W</text>
<text transform="translate(1058,498) scale(1,1.05)" font-size="16" text-anchor="middle" >(DPHJ)</text>
<rect x="1235.8" y="168.60000000000002" width="71.9" height="57.09999999999999" stroke-width="4.6" fill="none"/>
<polyline points="1254.2,150.5 1260,145 1265.8,150.5" stroke-width="2.8" fill="none" stroke-linejoin="miter"/>
<polyline points="1254.2,156.5 1260,151 1265.8,156.5" stroke-width="2.8" fill="none" stroke-linejoin="miter"/>
<line x1="1266" y1="150.5" x2="1300" y2="150.5" stroke-width="1.6" stroke-dasharray="17,5"/>
<line x1="1266" y1="156.5" x2="1300" y2="156.5" stroke-width="1.6" stroke-dasharray="17,5"/>
<circle cx="1260" cy="186" r="4" fill="#000" stroke="none"/>
<polyline points="1260,186 1247.5,210" stroke-width="2.5" fill="none" />
<circle cx="1247.5" cy="210" r="3.5" fill="#000" stroke="none"/>
<path d="M1247.5,210 L1272.5,210" stroke-width="2.5" fill="none" stroke-dasharray="4,3"/>
<circle cx="1272.5" cy="210" r="4" fill="#000" stroke="none"/>
<line x1="1255" y1="198.5" x2="1300" y2="198.5" stroke-width="1.6" stroke-dasharray="12,5"/>
<line x1="1272.5" y1="210" x2="1272.5" y2="277.5" stroke-width="3"/>
<polyline points="1266.7,240.5 1272.5,246 1278.3,240.5" stroke-width="2.8" fill="none" stroke-linejoin="miter"/>
<polyline points="1266.7,234.5 1272.5,240 1278.3,234.5" stroke-width="2.8" fill="none" stroke-linejoin="miter"/>
<line x1="1278" y1="235.5" x2="1300" y2="235.5" stroke-width="1.6" stroke-dasharray="17,5"/>
<line x1="1278" y1="241" x2="1300" y2="241" stroke-width="1.6" stroke-dasharray="17,5"/>
<line x1="1272.5" y1="246" x2="1300" y2="275" stroke-width="3"/>
<text transform="translate(1255,299.5) scale(1,1.05)" font-size="16" text-anchor="start" >DG/Y</text>
<text transform="translate(1249,316.5) scale(1,1.05)" font-size="16" text-anchor="start" >(DPHJ)</text>
<line x1="1272.5" y1="326" x2="1272.5" y2="346" stroke-width="3"/>
<polyline points="1266.7,339.5 1272.5,345 1278.3,339.5" stroke-width="2.8" fill="none" stroke-linejoin="miter"/>
<polyline points="1266.7,334.5 1272.5,340 1278.3,334.5" stroke-width="2.8" fill="none" stroke-linejoin="miter"/>
<text transform="translate(1289,340.5) scale(1,1.05)" font-size="16" text-anchor="start" >X-</text>
<text transform="translate(1237.5,368) scale(1,1.05)" font-size="16" text-anchor="start" >DG/Y (MA)</text>
<line x1="1272.5" y1="376" x2="1272.5" y2="404" stroke-width="3"/>
<polyline points="1266.7,383.5 1272.5,378 1278.3,383.5" stroke-width="2.8" fill="none" stroke-linejoin="miter"/>
<polyline points="1266.7,389.5 1272.5,384 1278.3,389.5" stroke-width="2.8" fill="none" stroke-linejoin="miter"/>
<text transform="translate(1290,390.5) scale(1,1.05)" font-size="16" text-anchor="start" >B</text>
<rect x="1247.25" y="405.65" width="60.5" height="44.60000000000002" stroke-width="4.5" fill="none"/>
<line x1="1272.5" y1="404" x2="1272.5" y2="414" stroke-width="3"/>
<circle cx="1272" cy="414" r="3.5" fill="#000" stroke="none"/>
<polyline points="1272,414 1264,430 1260,437.5" stroke-width="2.5" fill="none" />
<circle cx="1264" cy="430" r="3.5" fill="#000" stroke="none"/>
<circle cx="1260" cy="437.5" r="3.5" fill="#000" stroke="none"/>
<path d="M1260,437.5 L1285,437.5" stroke-width="2.5" fill="none" stroke-dasharray="4,3"/>
<circle cx="1285" cy="437.5" r="4" fill="#000" stroke="none"/>
<line x1="1285" y1="437.5" x2="1300" y2="437.5" stroke-width="2.5"/>
<line x1="1260" y1="437.5" x2="1260" y2="480" stroke-width="3"/>
<polyline points="1254.2,465.5 1260,471 1265.8,465.5" stroke-width="2.8" fill="none" stroke-linejoin="miter"/>
<polyline points="1254.2,459.5 1260,465 1265.8,459.5" stroke-width="2.8" fill="none" stroke-linejoin="miter"/>
<line x1="1266" y1="459.5" x2="1300" y2="459.5" stroke-width="1.6" stroke-dasharray="17,5"/>
<line x1="1266" y1="465.5" x2="1300" y2="465.5" stroke-width="1.6" stroke-dasharray="17,5"/>
<line x1="1235" y1="486" x2="1235" y2="514" stroke-width="2.5"/>
<polygon points="1231,512 1239,512 1235,524" stroke-width="1" fill="#000"/>
<text transform="translate(1262.5,501.5) scale(1,1.05)" font-size="16" text-anchor="middle" >P/B</text>
<text transform="translate(1262,519.5) scale(1,1.05)" font-size="16" text-anchor="middle" >(MA)</text>
<line x1="1260" y1="529" x2="1260" y2="564" stroke-width="3"/>
<polyline points="1254.2,537.5 1260,532 1265.8,537.5" stroke-width="2.8" fill="none" stroke-linejoin="miter"/>
<polyline points="1254.2,543.5 1260,538 1265.8,543.5" stroke-width="2.8" fill="none" stroke-linejoin="miter"/>
<text transform="translate(1274,548) scale(1,1.05)" font-size="16">X<tspan dx="-0.9">-</tspan><tspan dx="-1.0">20</tspan></text>
<text transform="translate(1266,584.5) scale(1,1.05)" font-size="16" text-anchor="middle" >P/B</text>
<text transform="translate(1267.5,601.5) scale(1,1.05)" font-size="16" text-anchor="middle" >(CLSE)</text>
<text transform="translate(1267,618) scale(1,1.05)" font-size="16" text-anchor="middle" >(ILF)</text>
<line x1="1260" y1="626" x2="1260" y2="660" stroke-width="3"/>
<polyline points="1254.2,647.5 1260,642 1265.8,647.5" stroke-width="2.8" fill="none" stroke-linejoin="miter"/>
<polyline points="1254.2,653.5 1260,648 1265.8,653.5" stroke-width="2.8" fill="none" stroke-linejoin="miter"/>
<text transform="translate(1275,656.5) scale(1,1.05)" font-size="16">X<tspan dx="-0.9">-</tspan><tspan dx="-1.0">10</tspan></text>
<text transform="translate(1235,679.5) scale(1,1.05)" font-size="16" text-anchor="start" >P/B (RL)</text>
<line x1="1260.5" y1="689" x2="1260.5" y2="807.5" stroke-width="3"/>
<polyline points="1254.7,696.5 1260.5,691 1266.3,696.5" stroke-width="2.8" fill="none" stroke-linejoin="miter"/>
<polyline points="1254.7,702.5 1260.5,697 1266.3,702.5" stroke-width="2.8" fill="none" stroke-linejoin="miter"/>
<line x1="1266" y1="696.5" x2="1300" y2="696.5" stroke-width="1.6" stroke-dasharray="17,5"/>
<line x1="1266" y1="701.5" x2="1300" y2="701.5" stroke-width="1.6" stroke-dasharray="17,5"/>
<rect x="1242.25" y="709.95" width="65.5" height="57.799999999999955" stroke-width="4.5" fill="none"/>
<rect x="1256.5" y="724" width="10" height="4.5" fill="#fff" stroke-width="2"/>
<rect x="1256.5" y="751" width="10" height="4.5" fill="#fff" stroke-width="2"/>
<circle cx="1261.5" cy="739.5" r="11.3" fill="#fff" stroke-width="2.8"/>
<text transform="translate(1261.5,743.5) scale(1,1.05)" font-size="10.5" text-anchor="middle" >M</text>
<text transform="translate(1131,719.5) scale(1,1.05)" font-size="16" text-anchor="start" >FUEL PUMP/</text>
<text transform="translate(1131,736.2) scale(1,1.05)" font-size="16" text-anchor="start" >FUEL GAUGE</text>
<text transform="translate(1131,752.9) scale(1,1.05)" font-size="16" text-anchor="start" >SENDER</text>
<polyline points="1254.7,780.5 1260.5,786 1266.3,780.5" stroke-width="2.8" fill="none" stroke-linejoin="miter"/>
<polyline points="1254.7,774.5 1260.5,780 1266.3,774.5" stroke-width="2.8" fill="none" stroke-linejoin="miter"/>
<line x1="1266" y1="774.5" x2="1300" y2="774.5" stroke-width="1.6" stroke-dasharray="17,5"/>
<line x1="1266" y1="780.5" x2="1300" y2="780.5" stroke-width="1.6" stroke-dasharray="17,5"/>
<text transform="translate(1260,827.5) scale(1,1.05)" font-size="16" text-anchor="middle" >B</text>
<text transform="translate(1264,846.5) scale(1,1.05)" font-size="16" text-anchor="middle" >(RL)</text>
<line x1="1233" y1="813.5" x2="1233" y2="841" stroke-width="2.5"/>
<polygon points="1229,839 1237,839 1233,851" stroke-width="1" fill="#000"/>
<line x1="1261" y1="855" x2="1261" y2="925" stroke-width="3"/>
<line x1="32" y1="935.8" x2="1300" y2="935.8" stroke-width="3"/>
<path d="M19,924.6 L19,917 Q19,912.6 23.4,912.6 L28.9,912.6 Q33.5,912.6 33.5,918.5 L33.5,936.3 Q33.5,941.8 27,941.8 L10,941.8 Q4.6,941.8 4.6,934.5 L4.6,932 Q4.6,927.7 8.3,927.7 L17,927.7 Q19,927.7 19,924.6 Z" stroke-width="2.3" fill="#fff" />
<text transform="translate(24.6,937.5) scale(1,1.05)" font-size="10.5" text-anchor="middle" >G</text>
<circle cx="59.4" cy="934.2" r="8.6" fill="#fff" stroke-width="2.6"/>
<text transform="translate(59.4,938.34) scale(1,1.05)" font-size="11.5" text-anchor="middle" >4</text>
<circle cx="328.6" cy="934.3" r="8.4" fill="#fff" stroke-width="2.6"/>
<text transform="translate(328.6,938.4399999999999) scale(1,1.05)" font-size="11.5" text-anchor="middle" >3</text>
<circle cx="1056" cy="933.5" r="8.6" fill="#fff" stroke-width="2.6"/>
<text transform="translate(1056,937.64) scale(1,1.05)" font-size="11.5" text-anchor="middle" >1</text>
<circle cx="1261" cy="933.5" r="8.6" fill="#fff" stroke-width="2.6"/>
<text transform="translate(1261,937.64) scale(1,1.05)" font-size="11.5" text-anchor="middle" >8</text>
</svg>
</body></html>
